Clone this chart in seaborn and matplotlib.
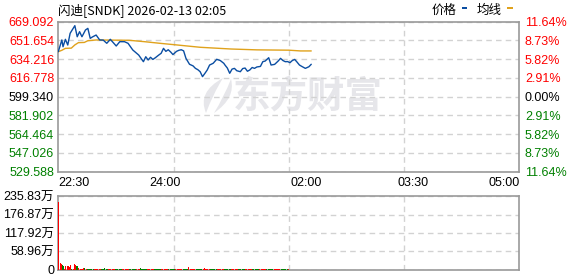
import matplotlib
matplotlib.use("Agg")
import matplotlib.pyplot as plt
import matplotlib.patches as mpatches
from matplotlib.path import Path
import seaborn as sns
import pandas as pd

# ---------------- data ----------------
title = "闪迪[SNDK] 2026-02-13 02:05"
y_levels = [529.588, 547.026, 564.464, 581.902, 599.340, 616.778, 634.216, 651.654, 669.092]
y_labels = ["529.588", "547.026", "564.464", "581.902", "599.340", "616.778", "634.216", "651.654", "669.092"]
pct_labels = ["11.64%", "8.73%", "5.82%", "2.91%", "0.00%", "2.91%", "5.82%", "8.73%", "11.64%"]
level_sign = ["g", "g", "g", "g", "k", "r", "r", "r", "r"]
x_tick_min = [0, 90, 210, 300, 390]
x_tick_labels = ["22:30", "24:00", "02:00", "03:30", "05:00"]
grid_min = [97.5, 195, 292.5]
vol_ticks = [0, 58.96, 117.92, 176.87, 235.83]
vol_tick_labels = ["0", "58.96万", "117.92万", "176.87万", "235.83万"]

price_min = [0, 3, 4, 6, 8, 10, 14, 16, 18, 20, 23, 25, 27, 29, 32, 35, 38, 41, 44, 47,
             49, 52, 56, 59, 63, 68, 70, 72, 74, 76, 78, 80, 82, 85, 87, 89, 91, 93, 95, 97,
             100, 102, 104, 106, 108, 111, 114, 116, 118, 120, 122, 124, 126, 128, 131, 134, 137, 140, 141, 143,
             145, 147, 149, 151, 154, 156, 158, 160, 162, 164, 166, 168, 171, 173, 175, 178, 180, 183, 186, 188,
             190, 192, 194, 196, 198, 200, 202, 204, 206, 209, 212, 214]
price_val = [641.2, 652.1, 645.8, 652.7, 647.4, 658.3, 665.4, 655.1, 659.8, 655.1, 661.4, 662.9, 653.6, 655.0, 656.7, 652.1, 652.0, 649.0, 652.7, 649.0,
             646.5, 650.5, 650.5, 649.0, 642.8, 638.1, 635.0, 631.9, 636.5, 633.5, 636.0, 634.0, 635.5, 638.1, 639.7, 644.3, 641.5, 643.0, 641.0, 638.5,
             641.5, 642.5, 643.0, 642.0, 635.0, 629.5, 628.0, 625.7, 624.5, 622.6, 618.0, 621.0, 624.2, 628.8, 630.4, 634.1, 633.0, 630.4, 628.8, 626.0,
             621.1, 625.0, 625.7, 623.5, 622.6, 625.5, 626.0, 623.0, 624.2, 626.5, 625.7, 627.0, 627.5, 631.9, 632.5, 635.6, 628.8, 629.4, 632.5, 635.0,
             633.0, 631.9, 632.0, 631.0, 633.0, 634.0, 631.5, 628.8, 627.5, 625.7, 627.2, 629.5]

avg_min = [0, 3, 6, 11, 14, 17, 22, 25, 32, 60, 73, 86, 100, 120, 146, 168, 195, 205, 214]
avg_val = [641.2, 642.5, 644.3, 644.5, 647.5, 649.6, 649.8, 651.4, 652.1, 651.8, 650.5, 649.0, 647.5, 645.3, 643.7, 642.9, 642.6, 641.9, 641.9]

# volume per minute (万) and direction (r = up, g = down)
vol = [216, 23, 19, 16, 13, 3, 12, 12, 12, 11,
       15, 4, 3, 19, 16, 12, 13, 5, 4, 4,
       4, 5, 6, 3,
       4, 3, 3.5, 3, 4, 3, 3.5, 3, 4, 3,
       3, 3.5, 3, 4, 3, 7, 3.5, 3, 3, 3.5,
       3, 3, 4, 3, 3, 3.5, 3, 3, 4, 3,
       3, 3.5, 3, 3, 3, 4, 3, 3, 3.5, 3,
       3, 3, 3, 3.5, 3, 6.5, 4, 3.5, 3, 3,
       3, 3, 3.5, 3, 3, 3, 3, 3.5, 3, 3,
       3, 3, 3, 3.5, 3, 3, 3, 3, 3.5, 3,
       3, 3, 3, 3, 3.5, 3, 3, 3, 3, 3.5,
       3, 3, 3, 3, 3.5, 3, 9.5, 3, 3, 3,
       3, 3.5, 3, 3, 3, 3, 3, 3.5, 3, 6,
       3.5, 3, 3, 3, 3, 3, 3.5, 3, 3, 3,
       3, 3, 3.5, 3, 3, 3, 3, 3, 3.5, 3,
       3, 3, 3, 3, 3.5, 3, 3, 3, 3, 3,
       3.5, 3, 3, 3, 3, 3, 3, 3.5, 3, 3,
       3, 3, 3, 3, 3.5, 3, 3, 3, 3, 3,
       3.5, 3, 3, 3, 3, 3, 3, 3.5, 3, 3,
       3, 3, 3, 3, 3.5, 3, 3, 3, 3, 3,
       3.5]
vol_dir = ("rrrggrrrrr" "rgrrrggrrr" "rrgr"
           "gggggg" "rrrrrr" "gggggg" "rrrrrr" "gggggg" "rrrrrr" "gggggg" "rrr"
           "gggggg" "rrrrrr" "gggggg" "rrrrrr" "gggggg" "rrrrrr" "ggggg" "rrrrrr"
           "gggggg" "rrrrrr" "gggggg" "rrrrrr" "gggggg" "rrrrrr" "gggggg" "rrrrrr"
           "gggggg" "rrrrrr" "gggggg" "rrrrrr" "gggggg" "rrrrrr" "gggggg" "rrrrrr"
           "ggg")

# ---------------- style ----------------
RED = "#ff0000"
GREEN = "#008000"
BLUE = "#0b4ea2"
ORANGE = "#e0a21c"
GRID = "#d2d2d2"
FRAME = "#999999"
WM = "#e6e6ea"
NUM_FONT = ["Liberation Sans", "Noto Sans CJK SC"]
CJK_FONT = ["Noto Sans CJK SC", "DejaVu Sans"]
sign_color = {"r": RED, "g": GREEN, "k": "#000000"}

sns.set_theme(style="white")
plt.rcParams["font.family"] = NUM_FONT

W, H = 578, 276
fig = plt.figure(figsize=(W / 100, H / 100), dpi=100)

def fx(px):
    return px / W

def fy(py):
    return 1 - py / H

L, R = 58.3, 519.3
ax = fig.add_axes([fx(L), fy(171.7), fx(R) - fx(L), fy(21.7) - fy(171.7)])
axv = fig.add_axes([fx(L), fy(270.0), fx(R) - fx(L), fy(196.0) - fy(270.0)])

# watermark (logo + text)
ax.text(fx(308), fy(97), "东方财富", transform=fig.transFigure, ha="center", va="center",
        fontsize=27, fontweight="bold", color=WM, family=CJK_FONT, zorder=0.5)
leaf1 = [(206, 113), (197, 92), (223, 78), (213, 94), (206, 113)]
leaf2 = [(214, 113), (236, 98), (231, 79), (224, 97), (214, 113)]
for leaf in leaf1, leaf2:
    verts = [(fx(a), fy(b)) for a, b in leaf]
    codes = [Path.MOVETO, Path.CURVE3, Path.CURVE3, Path.CURVE3, Path.CURVE3]
    ax.add_patch(mpatches.PathPatch(Path(verts, codes), transform=fig.transFigure,
                                    facecolor=WM, edgecolor="none", zorder=0.5))

# price and average lines
sns.lineplot(x=avg_min, y=avg_val, ax=ax, color=ORANGE, linewidth=1.0, zorder=3)
sns.lineplot(x=price_min, y=price_val, ax=ax, color=BLUE, linewidth=1.0, zorder=4)

ax.set_xlim(0, 390)
ax.set_ylim(y_levels[0], y_levels[-1])
ax.set_xlabel("")
ax.set_ylabel("")
ax.set_yticks(y_levels)
ax.set_yticklabels(y_labels, fontsize=9)
for lab, s in zip(ax.get_yticklabels(), level_sign):
    lab.set_color(sign_color[s])
ax.set_xticks(x_tick_min)
ax.set_xticklabels(x_tick_labels, fontsize=9, color="#000000")
xl = ax.get_xticklabels()
xl[0].set_ha("left")
xl[-1].set_ha("right")
ax.set_xticks(grid_min, minor=True)
ax.tick_params(axis="both", which="both", length=0)
ax.tick_params(axis="y", pad=3)
ax.tick_params(axis="x", pad=4)
ax.grid(False)
ax.yaxis.grid(True, which="major", color=GRID, linestyle=(0, (4, 3)), linewidth=1)
ax.xaxis.grid(True, which="minor", color=GRID, linestyle=(0, (4, 3)), linewidth=1)
for sp in ax.spines.values():
    sp.set_color(FRAME)
    sp.set_linewidth(1.2)

ax2 = ax.twinx()
ax2.set_ylim(y_levels[0], y_levels[-1])
ax2.set_yticks(y_levels)
ax2.set_yticklabels(pct_labels, fontsize=9)
for lab, s in zip(ax2.get_yticklabels(), level_sign):
    lab.set_color(sign_color[s])
ax2.tick_params(axis="y", length=0, pad=4)
ax2.grid(False)
for sp in ax2.spines.values():
    sp.set_visible(False)

# volume bars
n = min(len(vol), len(vol_dir))
df_vol = pd.DataFrame({"slot": [m + 0.5 for m in range(n)], "vol": vol[:n], "dir": list(vol_dir[:n])})
sns.barplot(data=df_vol, x="slot", y="vol", hue="dir", palette={"r": RED, "g": GREEN},
            native_scale=True, dodge=False, width=0.85, errorbar=None, legend=False,
            saturation=1, linewidth=0, ax=axv, zorder=3)
axv.set_xlim(0, 390)
axv.set_ylim(0, vol_ticks[-1])
axv.set_xlabel("")
axv.set_ylabel("")
axv.set_yticks(vol_ticks)
axv.set_yticklabels(vol_tick_labels, fontsize=9, color="#000000")
axv.set_xticks([])
axv.set_xticks(grid_min, minor=True)
axv.tick_params(axis="both", which="both", length=0)
axv.tick_params(axis="y", pad=3)
axv.grid(False)
axv.yaxis.grid(True, which="major", color=GRID, linestyle=(0, (4, 3)), linewidth=1)
axv.xaxis.grid(True, which="minor", color=GRID, linestyle=(0, (4, 3)), linewidth=1)
axv.set_axisbelow(True)
for sp in axv.spines.values():
    sp.set_color(FRAME)
    sp.set_linewidth(1.2)

# title and legend
fig.text(fx(58.5), fy(10), title, ha="left", va="center", fontsize=9, family=CJK_FONT, color="#000000")
fig.text(fx(431.5), fy(10), "价格", ha="left", va="center", fontsize=9, family=CJK_FONT, color="#000000")
fig.text(fx(476.5), fy(10), "均线", ha="left", va="center", fontsize=9, family=CJK_FONT, color="#000000")
fig.patches.append(mpatches.Rectangle((fx(462.3), fy(9.2)), fx(5), fy(6.8) - fy(9.2),
                                      transform=fig.transFigure, color=BLUE, lw=0))
fig.patches.append(mpatches.Rectangle((fx(507.3), fy(9.2)), fx(5.4), fy(6.8) - fy(9.2),
                                      transform=fig.transFigure, color=ORANGE, lw=0))

fig.savefig("out.png", dpi=100)
